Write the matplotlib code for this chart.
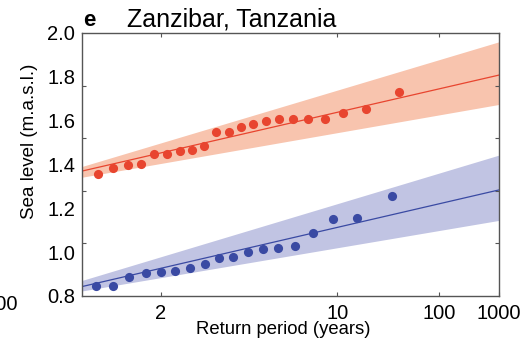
import numpy as np
import matplotlib
matplotlib.use("Agg")
import matplotlib.pyplot as plt
from matplotlib.ticker import FixedLocator, NullLocator, FixedFormatter

plt.rcParams['font.family'] = ['Liberation Sans', 'DejaVu Sans']

# ---- data (return period in years, sea level in m.a.s.l.) ----
red_T = [1.57, 1.65, 1.74, 1.83, 1.94, 2.06, 2.2, 2.36, 2.54, 2.75, 3.0,
         3.3, 3.67, 4.13, 4.71, 5.5, 6.6, 8.25, 11.0, 16.5, 33.0]
red_y = [1.358, 1.386, 1.398, 1.401, 1.449, 1.449, 1.460, 1.466, 1.486,
         1.547, 1.550, 1.573, 1.585, 1.600, 1.606, 1.608, 1.608, 1.608,
         1.634, 1.655, 1.731]

blue_T = [1.56, 1.65, 1.75, 1.87, 2.0, 2.15, 2.33, 2.55, 2.8, 3.11, 3.5,
          4.0, 4.67, 5.6, 7.0, 9.33, 14.0, 28.0]
blue_y = [0.847, 0.847, 0.888, 0.906, 0.911, 0.916, 0.928, 0.948, 0.972,
          0.978, 1.000, 1.014, 1.019, 1.027, 1.089, 1.150, 1.155, 1.256]

fit_T = [1.5, 1000.0]
red_fit = [1.370, 1.808]
red_lo = [1.342, 1.674]
red_hi = [1.391, 1.960]
blue_fit = [0.843, 1.284]
blue_lo = [0.823, 1.145]
blue_hi = [0.871, 1.443]

xticks = [2, 10, 100, 1000]
xticklabels = ['2', '10', '100', '1000']
yticks = [0.8, 1.0, 1.2, 1.4, 1.6, 1.8, 2.0]
yticklabels = ['0.8', '1.0', '1.2', '1.4', '1.6', '1.8', '2.0']
yminor = [1.04, 1.28, 1.52, 1.76]

# ---- colours ----
RED = '#E8452F'
RED_BAND = '#F8C4AE'
BLUE = '#3A4AA3'
BLUE_BAND = '#C1C4E3'
SPINE = '#555555'

W, H = 532, 345
fig = plt.figure(figsize=(W / 100, H / 100), dpi=100)
ax = fig.add_axes([82 / W, 1 - 296 / H, (499 - 82) / W, (296 - 33) / H])

def fwd(t):
    t = np.asarray(t, dtype=float)
    with np.errstate(invalid='ignore', divide='ignore'):
        return np.log(np.log10(np.clip(t, 1.0000001, None)))

def inv(u):
    return 10 ** np.exp(u)

ax.set_xscale('function', functions=(fwd, inv))

ax.fill_between(fit_T, red_lo, red_hi, color=RED_BAND, lw=0, zorder=1)
ax.fill_between(fit_T, blue_lo, blue_hi, color=BLUE_BAND, lw=0, zorder=1)
ax.plot(fit_T, red_fit, color=RED, lw=0.9, zorder=2)
ax.plot(fit_T, blue_fit, color=BLUE, lw=0.9, zorder=2)
ax.plot(red_T, red_y, 'o', color=RED, ms=6.6, mew=0, zorder=3)
ax.plot(blue_T, blue_y, 'o', color=BLUE, ms=6.6, mew=0, zorder=3)

ax.set_xlim(1.5, 1000)
ax.set_ylim(0.8, 2.0)

ax.xaxis.set_major_locator(FixedLocator(xticks))
ax.xaxis.set_major_formatter(FixedFormatter(xticklabels))
ax.xaxis.set_minor_locator(NullLocator())
ax.yaxis.set_major_locator(FixedLocator(yticks))
ax.yaxis.set_major_formatter(FixedFormatter(yticklabels))
ax.yaxis.set_minor_locator(FixedLocator(yminor))

ax.tick_params(axis='x', which='major', direction='in', top=True, bottom=True,
               length=3, width=0.8, color=SPINE, labelsize=14.5, pad=5.5)
ax.tick_params(axis='y', which='major', direction='in', left=True, right=True,
               length=0, labelsize=14.5, pad=5)
ax.tick_params(axis='y', which='minor', direction='in', left=True, right=True,
               length=3, width=0.8, color=SPINE)

for s in ax.spines.values():
    s.set_color(SPINE)
    s.set_linewidth(1.0)

fig.text(29.5 / W, 1 - 141.5 / H, 'Sea level (m.a.s.l.)', rotation=90,
         ha='center', va='center', fontsize=13.5)
fig.text(283 / W, 1 - 330 / H, 'Return period (years)', ha='center',
         va='center', fontsize=13.3)
fig.text(83 / W, 1 - 26 / H, 'e', fontweight='bold', fontsize=16,
         ha='left', va='baseline')
fig.text(127 / W, 1 - 26 / H, 'Zanzibar, Tanzania', fontsize=18,
         ha='left', va='baseline')
# edge of neighbouring panel's tick label
fig.text(18 / W, 1 - 305 / H, '1000', fontsize=14.5, ha='right', va='center')

fig.savefig('out.png', dpi=100)
